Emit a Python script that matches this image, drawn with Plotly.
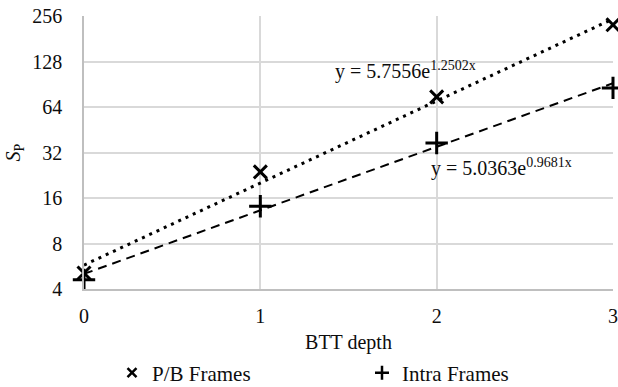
import numpy as np
import plotly.graph_objects as go

depth = [0, 1, 2, 3]
pb_frames = [5.1, 23.8, 74.7, 224.0]
intra_frames = [4.6, 14.1, 37.0, 85.6]
pb_fit = (5.7556, 1.2502)
intra_fit = (5.0363, 0.9681)
y_ticks = [4, 8, 16, 32, 64, 128, 256]
x_ticks = [0, 1, 2, 3]

FONT = "Liberation Serif"
TXT = "#0d0d0d"
xs = np.linspace(0, 3, 61)

fig = go.Figure()
fig.add_trace(go.Scatter(x=xs, y=pb_fit[0] * np.exp(pb_fit[1] * xs), mode="lines",
                         line=dict(color="black", width=3, dash="3px,5px"), showlegend=False, hoverinfo="skip"))
fig.add_trace(go.Scatter(x=xs, y=intra_fit[0] * np.exp(intra_fit[1] * xs), mode="lines",
                         line=dict(color="black", width=2, dash="9px,6px"), showlegend=False, hoverinfo="skip"))
fig.add_trace(go.Scatter(x=depth, y=pb_frames, mode="markers", name="P/B Frames", showlegend=False,
                         cliponaxis=False,
                         marker=dict(symbol="x-thin", size=13, line=dict(color="black", width=3), color="black")))
fig.add_trace(go.Scatter(x=depth, y=intra_frames, mode="markers", name="Intra Frames", showlegend=False,
                         cliponaxis=False,
                         marker=dict(symbol="cross-thin", size=16, line=dict(color="black", width=3), color="black")))
# legend entries (small markers as in the reference legend)
fig.add_trace(go.Scatter(x=[None], y=[None], mode="markers", name="P/B Frames", legend="legend",
                         marker=dict(symbol="x-thin", size=9, line=dict(color="black", width=2.5), color="black")))
fig.add_trace(go.Scatter(x=[None], y=[None], mode="markers", name="Intra Frames", legend="legend2",
                         marker=dict(symbol="cross-thin", size=10, line=dict(color="black", width=2.5), color="black")))

fig.add_annotation(x=(333 - 84) / 176.33, y=np.log10(112), xref="x", yref="y", xanchor="left", yanchor="middle",
                   text=f"y = {pb_fit[0]}e<sup>{pb_fit[1]}x</sup>", showarrow=False,
                   font=dict(family=FONT, size=20, color=TXT))
fig.add_annotation(x=(429 - 84) / 176.33, y=np.log10(25.3), xref="x", yref="y", xanchor="left", yanchor="middle",
                   text=f"y = {intra_fit[0]}e<sup>{intra_fit[1]}x</sup>", showarrow=False,
                   font=dict(family=FONT, size=20, color=TXT))

legfont = dict(family=FONT, size=21, color=TXT)
fig.update_layout(
    width=618, height=387,
    margin=dict(l=84, r=5, t=16, b=98, autoexpand=False),
    paper_bgcolor="white", plot_bgcolor="white",
    font=dict(family=FONT, size=20, color=TXT),
    xaxis=dict(range=[0, 3], tickvals=x_ticks, showgrid=True, gridcolor="#d9d9d9", gridwidth=1.5,
               showline=True, linecolor="#bfbfbf", linewidth=1.5, zeroline=False, automargin=False,
               ticks="outside", ticklen=8, tickcolor="rgba(0,0,0,0)",
               tickfont=dict(family=FONT, size=20, color=TXT),
               title=dict(text="BTT depth", font=dict(family=FONT, size=20, color=TXT), standoff=9)),
    yaxis=dict(type="log", range=[np.log10(4), np.log10(256)], tickvals=y_ticks,
               ticktext=[str(v) for v in y_ticks], automargin=False,
               showgrid=True, gridcolor="#d9d9d9", gridwidth=1.5,
               showline=True, linecolor="#bfbfbf", linewidth=1.5, zeroline=False,
               ticks="outside", ticklen=16, tickcolor="rgba(0,0,0,0)",
               tickfont=dict(family=FONT, size=20, color=TXT),
               title=dict(text="<i>S</i><sub>P</sub>", font=dict(family=FONT, size=20, color=TXT), standoff=6)),
    legend=dict(x=(112 - 84) / 529, xanchor="left", y=(289 - 373) / 273, yanchor="middle", itemwidth=30,
                bgcolor="rgba(0,0,0,0)", font=legfont),
    legend2=dict(x=(362 - 84) / 529, xanchor="left", y=(289 - 373) / 273, yanchor="middle", itemwidth=30,
                 bgcolor="rgba(0,0,0,0)", font=legfont),
)

fig.write_html("out.html", config={"displayModeBar": False},
               post_script="document.body.style.margin='0';document.body.style.padding='0';")
